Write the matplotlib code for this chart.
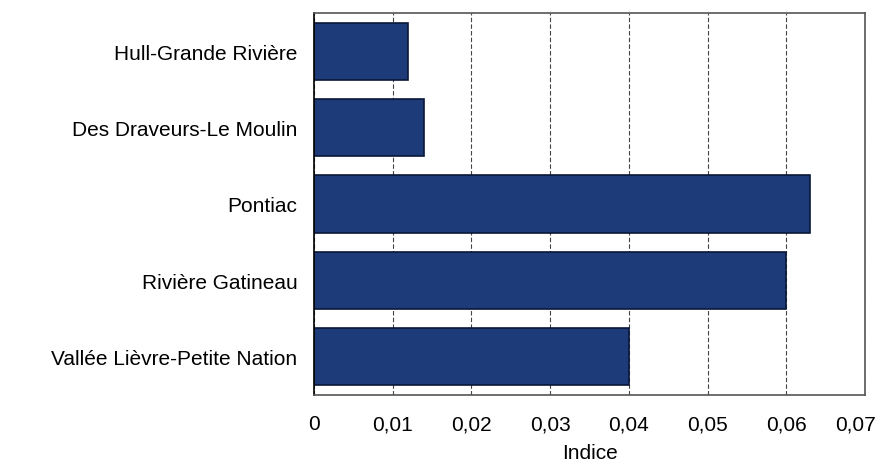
import matplotlib
matplotlib.use("Agg")
import matplotlib.pyplot as plt
from matplotlib.ticker import FuncFormatter, MultipleLocator

categories = ["Hull-Grande Rivière", "Des Draveurs-Le Moulin", "Pontiac",
              "Rivière Gatineau", "Vallée Lièvre-Petite Nation"]
values = [0.012, 0.014, 0.063, 0.060, 0.040]
x_ticks = [0, 0.01, 0.02, 0.03, 0.04, 0.05, 0.06, 0.07]
x_ticklabels = ["0", "0,01", "0,02", "0,03", "0,04", "0,05", "0,06", "0,07"]
x_label = "Indice"

plt.rcParams['font.family'] = ['Liberation Sans', 'DejaVu Sans']

fig = plt.figure(figsize=(8.8, 4.64), dpi=100)
ax = fig.add_axes([314/880, 1-396/464, (865-314)/880, (396-14)/464])

ypos = list(range(len(categories)))
ax.barh(ypos, values, height=0.75, color="#1c3b78", edgecolor="#0b1838",
        linewidth=1.2, zorder=2)
ax.set_ylim(len(categories)-0.5, -0.5)
ax.set_yticks(ypos)
ax.set_yticklabels(categories)
ax.set_xlim(x_ticks[0], x_ticks[-1])
ax.set_xticks(x_ticks)
# last label is drawn separately, shifted slightly left so it stays inside the figure
ax.set_xticklabels(x_ticklabels[:-1] + [""])
ax.set_axisbelow(True)
ax.grid(axis="x", color="#444444", linestyle=(0, (4, 2)), linewidth=0.8)
ax.tick_params(axis="both", length=0, labelsize=15, colors="black")
ax.tick_params(axis="y", pad=12)
ax.tick_params(axis="x", pad=14)
ax.set_xlabel(x_label, fontsize=15, labelpad=7)
ax.annotate(x_ticklabels[-1], xy=(x_ticks[-1], 0), xycoords=ax.get_xaxis_transform(),
            xytext=(-7, -14), textcoords="offset points", ha="center", va="top",
            fontsize=15, annotation_clip=False)
for side in ["top", "right", "bottom"]:
    ax.spines[side].set_color("#555555")
    ax.spines[side].set_linewidth(1.2)
ax.spines["left"].set_color("black")
ax.spines["left"].set_linewidth(1.2)

fig.savefig("out.png", dpi=100)
